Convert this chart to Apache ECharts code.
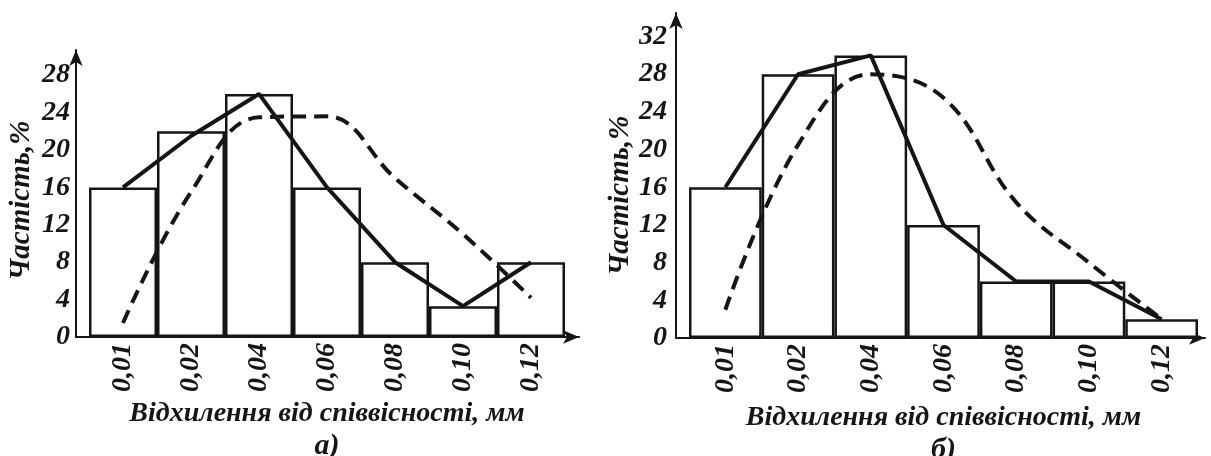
<!DOCTYPE html>
<html>
<head>
<meta charset="utf-8">
<script src="https://cdn.jsdelivr.net/npm/echarts@6/dist/echarts.min.js"></script>
<style>html,body{margin:0;padding:0;background:#fff;}#c{width:1211px;height:456px;}</style>
</head>
<body>
<div id="c"></div>
<script>
// ---- data ----
const categories = ['0,01', '0,02', '0,04', '0,06', '0,08', '0,10', '0,12'];
const yTicksStep = 4;

// panel а)
const barsA = [16, 22, 26, 16, 8, 3.3, 8];
const polygonA = [16, 21.5, 26, 16, 8, 3.3, 8];
const curveA = [1.5, 15.5, 23.5, 23.6, 17, 11, 4.2];
const yMaxA = 30.7;

// panel б)
const barsB = [16, 28, 30, 12, 6, 6, 2];
const polygonB = [16, 28, 30, 12, 6, 6, 2];
const curveB = [3, 20.5, 28, 25.5, 14.4, 8, 2];
const yMaxB = 34.5;

const yTitle = 'Частість,%';
const xTitle = 'Відхилення від співвісності, мм';
const panelA = 'а)';
const panelB = 'б)';

// ---- style ----
const INK = '#151515';
const FONT = {fontFamily: 'Liberation Serif', fontWeight: 'bold', fontStyle: 'italic', color: INK};

function axisGridAxes(yMax, labelMargin, nameGap, namePad) {
  return {
    x: {
      type: 'value', min: 0, max: 1,
      axisLine: {show: true, symbol: ['none', 'arrow'], symbolSize: [10, 16], lineStyle: {color: INK, width: 2}},
      axisTick: {show: false}, axisLabel: {show: false}, splitLine: {show: false}
    },
    y: {
      type: 'value', min: 0, max: yMax, interval: yTicksStep,
      axisLine: {show: true, symbol: ['none', 'arrow'], symbolSize: [10, 16], lineStyle: {color: INK, width: 2}},
      axisTick: {show: false}, splitLine: {show: false},
      axisLabel: Object.assign({fontSize: 28, margin: labelMargin, showMaxLabel: false}, FONT),
      name: yTitle, nameLocation: 'middle', nameRotate: 90, nameGap: nameGap,
      nameTextStyle: Object.assign({fontSize: 29, padding: [0, namePad, 0, 0]}, FONT)
    }
  };
}
function dataGridAxes(yMax, xNameGap, panel) {
  return {
    x: {
      type: 'category', data: categories, boundaryGap: true,
      axisLine: {show: false}, axisTick: {show: false},
      axisLabel: Object.assign({fontSize: 28, rotate: 90, margin: 6, interval: 0}, FONT),
      name: '{t|' + xTitle + '}\n{p|' + panel + '}', nameLocation: 'middle', nameGap: xNameGap,
      nameTextStyle: Object.assign({
        rich: {
          t: Object.assign({fontSize: 28, lineHeight: 32}, FONT),
          p: Object.assign({fontSize: 30, lineHeight: 32}, FONT)
        }
      }, FONT)
    },
    y: {type: 'value', min: 0, max: yMax, show: false, splitLine: {show: false}}
  };
}
const aA = axisGridAxes(yMaxA, 6, 40, 14);
const dA = dataGridAxes(yMaxA, 51, panelA);
const aB = axisGridAxes(yMaxB, 9, 38, 40);
const dB = dataGridAxes(yMaxB, 64, panelB);

function seriesFor(idx, bars, polygon, curve) {
  return [
    {type: 'bar', xAxisIndex: idx, yAxisIndex: idx, data: bars, barCategoryGap: 0,
     itemStyle: {color: '#fff', borderColor: INK, borderWidth: 2.5}, silent: true, z: 2},
    {type: 'line', xAxisIndex: idx, yAxisIndex: idx, data: curve, smooth: 0.4, symbol: 'none',
     lineStyle: {color: INK, width: 4, type: [14, 8]}, z: 3},
    {type: 'line', xAxisIndex: idx, yAxisIndex: idx, data: polygon, symbol: 'none',
     lineStyle: {color: INK, width: 4}, z: 4}
  ];
}

const chart = echarts.init(document.getElementById('c'), null, {renderer: 'canvas'});
chart.setOption({
  animation: false,
  backgroundColor: '#fff',
  grid: [
    {left: 76, top: 50, width: 503, height: 287, outerBoundsMode: 'none', containLabel: false},
    {left: 89, top: 50, width: 476, height: 287, outerBoundsMode: 'none', containLabel: false},
    {left: 676, top: 13, width: 529, height: 325, outerBoundsMode: 'none', containLabel: false},
    {left: 689, top: 13, width: 509, height: 325, outerBoundsMode: 'none', containLabel: false}
  ],
  xAxis: [
    Object.assign({gridIndex: 0}, aA.x),
    Object.assign({gridIndex: 1}, dA.x),
    Object.assign({gridIndex: 2}, aB.x),
    Object.assign({gridIndex: 3}, dB.x)
  ],
  yAxis: [
    Object.assign({gridIndex: 0}, aA.y),
    Object.assign({gridIndex: 1}, dA.y),
    Object.assign({gridIndex: 2}, aB.y),
    Object.assign({gridIndex: 3}, dB.y)
  ],
  series: [].concat(
    seriesFor(1, barsA, polygonA, curveA),
    seriesFor(3, barsB, polygonB, curveB)
  )
});
</script>
</body>
</html>
